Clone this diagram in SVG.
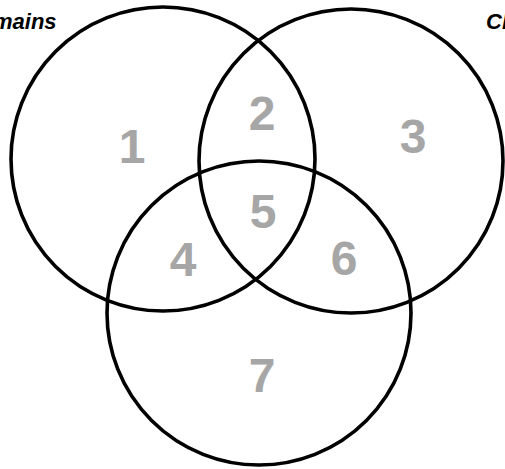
<svg xmlns="http://www.w3.org/2000/svg" width="505" height="469" viewBox="0 0 505 469">
<style>
.c{fill:none;stroke:#000;stroke-width:3.6}
.n{font-family:"Liberation Sans",Arial,sans-serif;font-weight:bold;font-size:48px;fill:#a6a6a6;text-anchor:middle}
.t{font-family:"Liberation Sans",Arial,sans-serif;font-weight:bold;font-style:italic;font-size:22px;fill:#000}
</style>
<rect width="505" height="469" fill="#fff"/>
<g id="circle-left"><circle class="c" cx="163" cy="159" r="152"/></g>
<g id="circle-right"><circle class="c" cx="351" cy="161" r="152"/></g>
<g id="circle-bottom"><circle class="c" cx="259" cy="313" r="152"/></g>
<g id="labels">
<text class="t" x="-7" y="29">mains</text>
<text class="t" x="486" y="29">Cl</text>
</g>
<g id="regions">
<text class="n" x="132" y="163">1</text>
<text class="n" x="262" y="130">2</text>
<text class="n" x="413" y="153">3</text>
<text class="n" x="183" y="276">4</text>
<text class="n" x="263" y="228">5</text>
<text class="n" x="344" y="275">6</text>
<text class="n" x="262" y="392">7</text>
</g>
</svg>
